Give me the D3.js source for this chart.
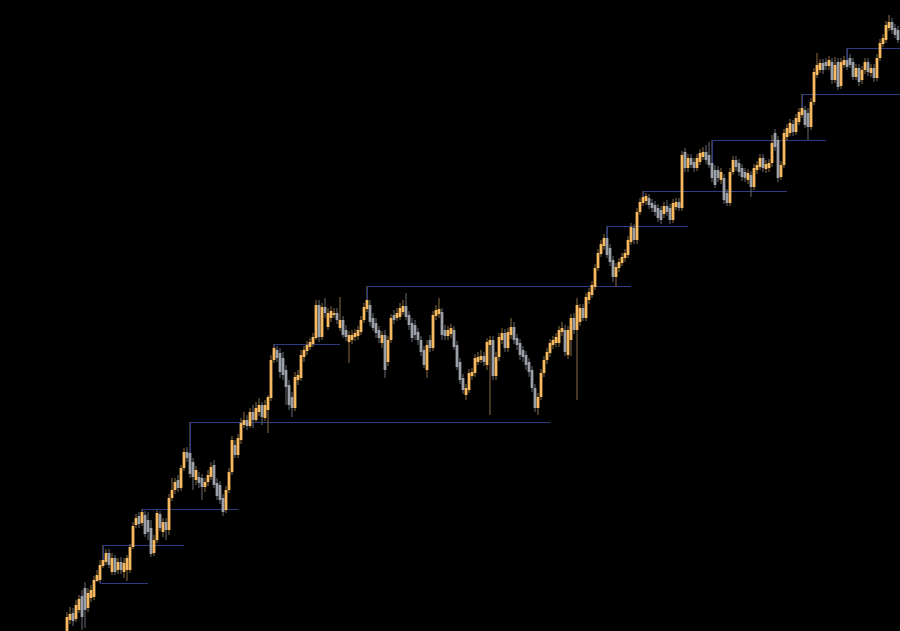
<!DOCTYPE html>
<html><head><meta charset="utf-8">
<script src="https://cdn.jsdelivr.net/npm/d3@7"></script>
<style>html,body{margin:0;padding:0;background:#000;overflow:hidden}</style>
</head><body><svg id="chart" width="900" height="631"></svg>
<script>
const opens=[7,20,27,21,30,44,52,32,42,43,
59,60,74,78,87,68,82,70,78,68,
70,70,93,115,124,117,125,120,112,87,
100,126,108,118,110,142,150,160,152,172,
188,187,178,160,163,162,153,158,163,175,
157,155,142,130,150,168,195,185,200,215,
220,214,228,220,228,235,222,230,242,280,
290,287,282,270,255,243,232,260,262,283,
289,293,296,302,335,303,333,313,322,325,
327,312,320,310,298,300,303,304,308,320,
331,335,322,317,310,297,305,278,300,325,
322,323,328,334,325,317,315,308,300,290,
270,300,292,324,326,328,310,304,306,310,
295,278,262,245,250,264,267,278,280,284,
275,295,300,264,283,300,307,292,305,313,
302,297,290,285,278,270,252,232,243,267,
280,287,295,297,297,308,310,285,300,322,
310,318,332,322,340,345,353,372,386,394,
402,392,380,363,372,377,382,385,398,412,
400,428,437,439,442,437,435,432,430,426,
434,432,420,433,438,432,488,472,482,478,
472,478,483,488,485,477,470,470,460,462,
447,437,468,480,477,472,468,460,465,453,
470,473,482,471,472,477,507,500,463,475,
503,507,516,508,518,525,530,527,513,538,
565,570,577,578,574,578,560,578,554,575,
580,582,578,563,572,560,570,578,567,572,
562,582,596,600,612,618,612,610];
const highs=[28,33,32,40,45,50,58,52,55,64,
70,80,95,91,91,87,85,82,83,82,
85,96,118,126,128,131,129,128,120,105,
130,129,122,122,146,162,162,165,175,192,
193,218,182,174,168,166,162,170,178,180,
162,159,146,154,172,204,200,206,222,228,
225,232,235,238,242,238,240,245,285,296,
294,292,288,275,260,248,268,270,290,294,
299,302,307,340,340,337,342,332,334,332,
332,343,324,315,309,310,311,314,324,337,
354,340,327,322,314,309,310,304,326,330,
332,337,340,347,329,322,320,312,304,294,
300,305,329,335,342,332,315,314,316,314,
299,282,266,256,271,272,286,288,290,288,
302,304,304,288,307,312,311,312,322,318,
306,301,294,289,282,274,256,247,271,284,
292,301,304,307,314,318,315,314,326,327,
342,336,336,347,352,359,376,391,400,406,
414,396,384,377,382,387,391,404,417,416,
432,442,449,447,446,441,439,436,434,438,
440,436,441,442,442,489,492,486,486,482,
486,491,493,495,498,500,475,474,472,466,
451,472,484,484,481,476,472,471,469,476,
479,486,486,480,481,505,511,504,479,511,
516,521,520,526,532,546,534,532,542,572,
587,581,581,582,584,582,583,582,582,584,
592,586,582,576,576,574,582,582,576,576,
586,601,606,619,625,622,616,614];
const lows=[4,16,14,18,27,10,12,28,38,40,
58,57,72,75,72,65,65,66,66,62,
59,67,91,112,112,114,103,100,83,84,
97,109,103,100,105,139,146,148,149,169,
178,162,150,155,152,140,148,154,160,152,
140,136,124,127,147,165,182,182,196,212,
210,212,212,218,224,215,219,207,239,277,
278,262,260,235,230,223,229,255,259,278,
285,290,293,300,298,300,322,310,318,322,
316,309,302,299,277,296,299,300,305,317,
328,314,309,302,297,292,262,274,297,316,
319,320,325,320,310,298,300,295,284,272,
262,288,289,320,322,300,300,300,302,290,
270,256,246,240,247,260,263,275,277,274,
270,225,260,260,279,296,288,288,301,296,
290,280,278,270,263,248,228,225,240,263,
276,283,291,293,293,304,284,281,284,306,
240,314,319,319,336,342,350,369,383,390,
382,374,358,353,368,374,378,382,395,396,
396,425,434,435,431,428,424,418,416,422,
424,416,417,430,429,429,468,468,472,468,
469,475,480,476,472,458,452,458,456,436,
434,434,465,469,464,459,458,456,443,450,
466,470,468,467,468,473,489,458,460,472,
500,504,504,505,515,522,512,500,510,535,
562,567,566,570,570,556,557,550,551,572,
570,572,560,560,554,556,566,564,563,558,
559,579,593,597,609,606,602,597];
const closes=[23,26,19,35,41,23,30,47,50,60,
65,75,80,87,75,82,68,78,70,77,
82,93,114,122,116,128,106,108,86,100,
127,112,118,110,142,150,158,152,172,188,
182,166,163,170,157,153,158,165,173,155,
144,140,128,150,168,200,185,202,217,220,
214,228,220,232,235,223,235,243,280,292,
282,268,265,253,235,232,263,265,285,290,
295,298,303,335,303,333,327,327,329,327,
320,320,305,303,305,305,307,310,320,333,
340,318,312,307,302,305,270,300,322,320,
327,332,334,323,315,302,305,300,288,275,
295,292,325,330,331,305,304,310,312,293,
273,260,250,252,267,268,282,283,284,278,
298,300,264,283,303,307,292,308,313,300,
295,285,283,275,268,252,232,243,267,280,
288,297,300,303,310,312,288,310,322,310,
335,332,322,343,348,355,372,387,396,402,
385,378,363,373,378,383,387,400,413,400,
428,438,443,444,435,432,428,422,420,434,
428,420,437,438,432,485,472,482,475,472,
482,487,488,480,475,462,455,462,468,440,
437,468,480,473,468,463,462,467,453,472,
475,482,472,476,477,497,493,462,475,507,
512,517,508,522,528,532,515,513,538,568,
575,577,570,574,580,560,575,553,578,580,
573,575,563,572,558,570,578,568,572,562,
582,597,602,615,618,610,605,600];

// horizontal levels: price, first bar, last bar
const levelPrices=[57,95,131,218,296,354,414,449,500,546,592];
const levelStart=[11,12,25,41,69,100,180,192,215,245,260];
const levelEnd=[27,39,57,161,91,188,207,240,253,278,278];

const W=900,H=631;
const svg=d3.select('#chart');
svg.append('rect').attr('width',W).attr('height',H).attr('fill','#000');

const x=d3.scaleLinear().domain([0,opens.length-1]).range([67,898]);
const y=d3.scaleLinear().domain([0,640]).range([640,0]);

const bars=opens.map((o,i)=>({i,o,h:highs[i],l:lows[i],c:closes[i]}));
const upBody='#f6b95f', downBody='#9a9fa8', upWick='#8a6c44', downWick='#666a72';
const bw=2.8;

const levels=levelPrices.map((p,k)=>({p,s:levelStart[k],e:levelEnd[k]}));
svg.append('g').selectAll('path').data(levels).join('path')
  .attr('fill','none').attr('stroke','#2d3d84').attr('stroke-width',1)
  .attr('d',d=>{
    const b=bars[d.s];
    const edge=d.p>=Math.max(b.o,b.c)?Math.max(b.o,b.c):Math.min(b.o,b.c);
    const yl=Math.round(y(d.p))+0.5;
    const xs=Math.round(x(d.s))+0.5;
    return `M${xs},${y(edge)}L${xs},${yl}L${x(d.e)},${yl}`;
  });

const g=svg.append('g');
g.selectAll('rect.wick').data(bars).join('rect')
  .attr('class','wick')
  .attr('x',d=>x(d.i)-0.5).attr('width',1)
  .attr('y',d=>y(Math.max(d.h,d.o,d.c)))
  .attr('height',d=>y(Math.min(d.l,d.o,d.c))-y(Math.max(d.h,d.o,d.c)))
  .attr('fill',d=>d.c>=d.o?upWick:downWick);
g.selectAll('rect.body').data(bars).join('rect')
  .attr('class','body')
  .attr('x',d=>x(d.i)-bw/2).attr('width',bw)
  .attr('y',d=>y(Math.max(d.o,d.c)))
  .attr('height',d=>Math.max(1,Math.abs(y(d.o)-y(d.c))))
  .attr('fill',d=>d.c>=d.o?upBody:downBody);

// redraw pivot connectors above the wicks
svg.append('g').selectAll('path').data(levels).join('path')
  .attr('fill','none').attr('stroke','#2d3d84').attr('stroke-width',1)
  .attr('d',d=>{
    const b=bars[d.s];
    const edge=d.p>=Math.max(b.o,b.c)?Math.max(b.o,b.c):Math.min(b.o,b.c);
    const xs=Math.round(x(d.s))+0.5;
    return `M${xs},${y(edge)}L${xs},${Math.round(y(d.p))+0.5}`;
  });
</script></body></html>
